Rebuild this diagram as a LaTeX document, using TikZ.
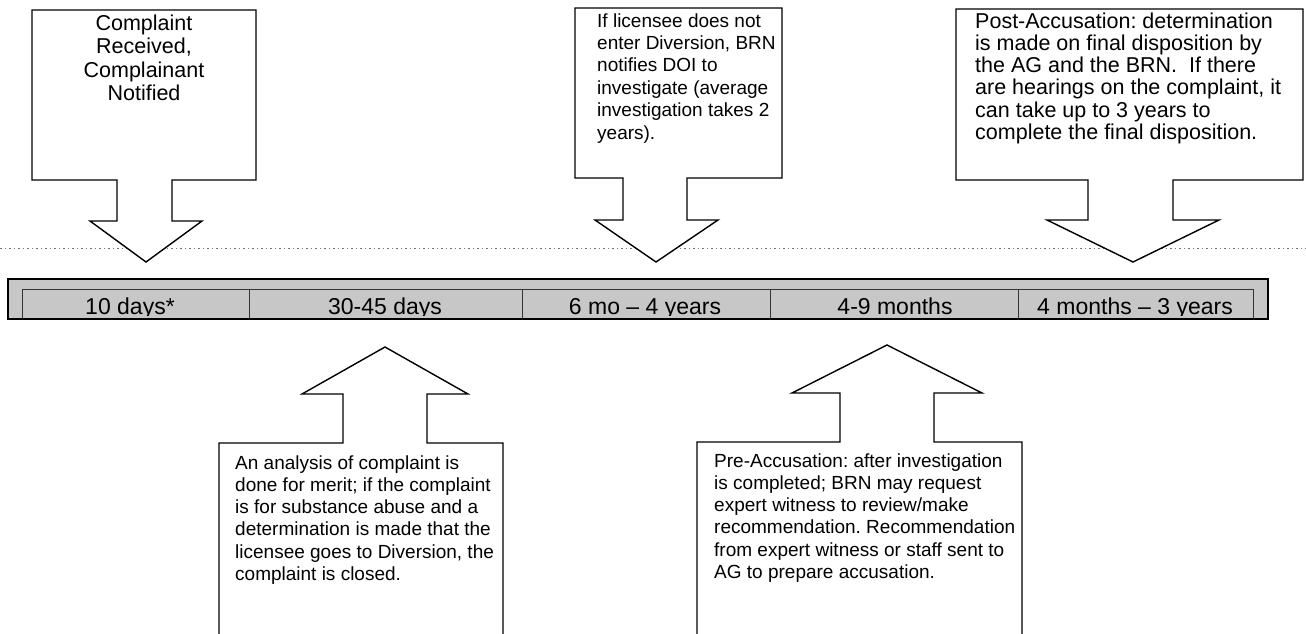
\documentclass[tikz,border=0pt]{standalone}
\usepackage{fontspec}
\setmainfont{Liberation Sans}
\frenchspacing
\begin{document}
\begin{tikzpicture}[x=1pt,y=-1pt,
  callout/.style={draw=black,line width=1.4pt,fill=white,line join=miter},
  txt/.style={inner sep=0pt,anchor=base west},
  ctxt/.style={inner sep=0pt,anchor=base},
  bartxt/.style={inner sep=0pt,anchor=base,font=\fontsize{23}{26}\selectfont},
  divider/.style={draw=black!80,line width=1pt}]
\useasboundingbox (0,0) rectangle (1306,633);
% dotted guide line
\draw[black!55,line width=0.8pt,dash pattern=on 1.5pt off 3pt] (0,248) -- (1306,248);
% timeline bar
\fill[black!22] (8,279) rectangle (1268,319);
\draw[divider] (22,319) -- (22,289) -- (1253,289) -- (1253,319);
\foreach \xx in {249,522,770,1018} \draw[divider] (\xx,289) -- (\xx,319);
\begin{scope}
  \clip (9,280) rectangle (1267,315.5);
  \node[bartxt] (c1) at (130,314.5) {10 days*};
  \node[bartxt] (c2) at (385,314.5) {30-45 days};
  \node[bartxt] (c3) at (645,314.5) {6 mo -- 4 years};
  \node[bartxt] (c4) at (895,314.5) {4-9 months};
  \node[bartxt] (c5) at (1135,314.5) {4 months -- 3 years};
\end{scope}
\draw[black,line width=1.8pt] (8,279) rectangle (1268,319);
% top callouts
\draw[callout] (32,10) -- (256,10) -- (256,180) -- (172,180) -- (172,221) -- (202,221)
  -- (146,262) -- (90,221) -- (117,221) -- (117,180) -- (32,180) -- cycle;
\draw[callout] (575,8) -- (782,8) -- (782,178) -- (687,178) -- (687,220) -- (718,220)
  -- (656,262) -- (595,220) -- (623,220) -- (623,178) -- (575,178) -- cycle;
\draw[callout] (956,9) -- (1303,9) -- (1303,180) -- (1173,180) -- (1173,220) -- (1219,220)
  -- (1133,262) -- (1047,220) -- (1088,220) -- (1088,180) -- (956,180) -- cycle;
% bottom callouts (open at the bottom edge)
\draw[callout] (219,640) -- (219,443) -- (343,443) -- (343,394) -- (302,394) -- (385,347)
  -- (468,394) -- (427,394) -- (427,443) -- (503,443) -- (503,640);
\draw[callout] (697,640) -- (697,442) -- (840,442) -- (840,393) -- (792,393) -- (887,345)
  -- (982,393) -- (934,393) -- (934,442) -- (1022,442) -- (1022,640);
% texts
\node[ctxt,font=\fontsize{21.5}{23.5}\selectfont] (t1) at (144,30) {\parbox[t]{220pt}{\centering Complaint\\Received,\\Complainant\\Notified}};
\node[txt,font=\fontsize{19}{22.4}\selectfont] (t2) at (597,27) {\parbox[t]{300pt}{\raggedright If licensee does not\\enter Diversion, BRN\\notifies DOI to\\investigate (average\\investigation takes 2\\years).}};
\node[txt,font=\fontsize{21.5}{22.3}\selectfont] (t3) at (975,28) {\parbox[t]{400pt}{\raggedright Post-Accusation: determination\\is made on final disposition by\\the AG and the BRN.\ \ If there\\are hearings on the complaint, it\\can take up to 3 years to\\complete the final disposition.}};
\node[txt,font=\fontsize{19}{22.3}\selectfont] (t4) at (235,469) {\parbox[t]{400pt}{\raggedright An analysis of complaint is\\done for merit; if the complaint\\is for substance abuse and a\\determination is made that the\\licensee goes to Diversion, the\\complaint is closed.}};
\node[txt,font=\fontsize{19}{22.3}\selectfont] (t5) at (714,467) {\parbox[t]{400pt}{\raggedright Pre-Accusation: after investigation\\is completed; BRN may request\\expert witness to review/make\\recommendation. Recommendation\\from expert witness or staff sent to\\AG to prepare accusation.}};
\end{tikzpicture}
\end{document}
